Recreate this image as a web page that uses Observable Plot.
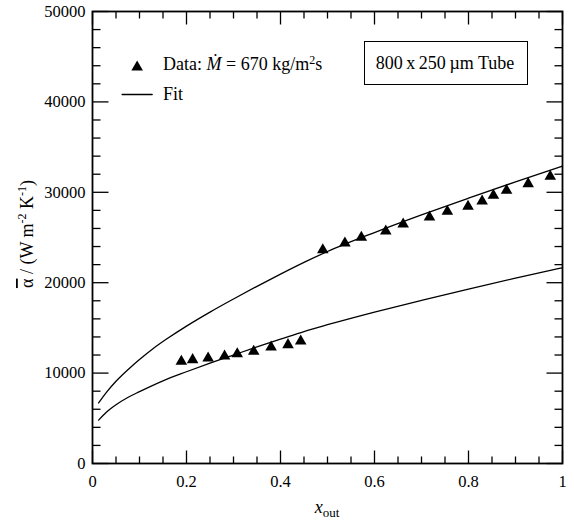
<!DOCTYPE html>
<html><head><meta charset="utf-8">
<script src="https://cdn.jsdelivr.net/npm/d3@7"></script>
<script src="https://cdn.jsdelivr.net/npm/@observablehq/plot@0.6"></script>
<style>body{margin:0;background:#fff} svg{display:block}</style>
</head><body><div id="chart"></div>
<script>
// ---- data ----
const dataX = [0.189, 0.213, 0.246, 0.281, 0.308, 0.343, 0.380, 0.416, 0.443,
               0.490, 0.537, 0.572, 0.624, 0.661, 0.717, 0.755, 0.799, 0.829, 0.853, 0.881, 0.927, 0.974];
const dataY = [11300, 11470, 11660, 11880, 12130, 12390, 12870, 13130, 13540,
               23620, 24380, 25010, 25700, 26480, 27250, 27880, 28440, 29020, 29650, 30210, 30940, 31760];

const fitLowerX = [0.013, 0.03, 0.05, 0.075, 0.1, 0.15, 0.2, 0.25, 0.3, 0.35, 0.4, 0.45, 0.5, 0.6, 0.7, 0.8, 0.9, 1.0];
const fitLowerY = [4800, 5700, 6500, 7300, 7950, 9150, 10150, 11100, 12000, 12900, 13750, 14600, 15350, 16750, 18050, 19300, 20500, 21650];

const fitUpperX = [0.013, 0.03, 0.05, 0.08, 0.1, 0.13, 0.16, 0.2, 0.25, 0.3, 0.35, 0.4, 0.45, 0.5, 0.6, 0.7, 0.8, 0.9, 1.0];
const fitUpperY = [6700, 7900, 9100, 10600, 11500, 12750, 13850, 15200, 16750, 18200, 19600, 20950, 22250, 23450, 25550, 27500, 29350, 31150, 32900];

const xTicks = [0, 0.2, 0.4, 0.6, 0.8, 1];
const xMinorTicks = [0.05, 0.1, 0.15, 0.25, 0.3, 0.35, 0.45, 0.5, 0.55, 0.65, 0.7, 0.75, 0.85, 0.9, 0.95];
const yTicks = [0, 10000, 20000, 30000, 40000, 50000];
const yMinorTicks = [2000, 4000, 6000, 8000, 12000, 14000, 16000, 18000, 22000, 24000, 26000, 28000,
                     32000, 34000, 36000, 38000, 42000, 44000, 46000, 48000];

const legendLabels = ["Data: ", "Ṁ", " = 670 kg/m", "2", "s", "Fit"];
const boxLabel = "800\u2009x\u2009250\u2009µm Tube";
const legendTriangle = [{x: 0.095, y: 43850}];
const legendLine = [{x: 0.063, y: 40820}, {x: 0.127, y: 40820}];

// ---- build ----
const points = dataX.map((x, i) => ({x, y: dataY[i]}));
const lower = fitLowerX.map((x, i) => ({x, y: fitLowerY[i]}));
const upper = fitUpperX.map((x, i) => ({x, y: fitUpperY[i]}));

const W = 574, H = 522, mL = 92, mR = 12, mT = 11, mB = 59;
const innerH = H - mT - mB, innerW = W - mL - mR;
const xDom = [0, 1], yDom = [0, 50000];
const pxY = (yDom[1] - yDom[0]) / innerH, pxX = (xDom[1] - xDom[0]) / innerW;
const xMaj = 13 * pxY, xMin = 7 * pxY, yMaj = 16 * pxX, yMin = 8 * pxX;
const font = "'Liberation Serif', 'Times New Roman', 'DejaVu Serif', serif";

// tick segments (inward, all four sides)
const tickSegs = [
  ...xTicks.flatMap(t => [{x1: t, x2: t, y1: yDom[0], y2: yDom[0] + xMaj}, {x1: t, x2: t, y1: yDom[1] - xMaj, y2: yDom[1]}]),
  ...xMinorTicks.flatMap(t => [{x1: t, x2: t, y1: yDom[0], y2: yDom[0] + xMin}, {x1: t, x2: t, y1: yDom[1] - xMin, y2: yDom[1]}]),
  ...yTicks.flatMap(t => [{x1: xDom[0], x2: xDom[0] + yMaj, y1: t, y2: t}, {x1: xDom[1] - yMaj, x2: xDom[1], y1: t, y2: t}]),
  ...yMinorTicks.flatMap(t => [{x1: xDom[0], x2: xDom[0] + yMin, y1: t, y2: t}, {x1: xDom[1] - yMin, x2: xDom[1], y1: t, y2: t}])
];

const plot = Plot.plot({
  width: W, height: H,
  marginLeft: mL, marginRight: mR, marginTop: mT, marginBottom: mB,
  style: {fontFamily: font, fontSize: "16.5px", background: "white"},
  x: {domain: xDom, ticks: xTicks, tickFormat: d => String(d), tickSize: 0, tickPadding: 12, label: null},
  y: {domain: yDom, ticks: yTicks, tickFormat: d => String(d), tickSize: 0, tickPadding: 7, label: null},
  marks: [
    Plot.link(tickSegs, {x1: "x1", y1: "y1", x2: "x2", y2: "y2", stroke: "black", strokeWidth: 1.3}),
    Plot.line(lower, {x: "x", y: "y", curve: "monotone-x", stroke: "black", strokeWidth: 1.3}),
    Plot.line(upper, {x: "x", y: "y", curve: "monotone-x", stroke: "black", strokeWidth: 1.3}),
    Plot.dot(points, {x: "x", y: "y", symbol: "triangle", r: 4.3, fill: "black", stroke: "none"}),
    Plot.dot(legendTriangle, {x: "x", y: "y", symbol: "triangle", r: 4.3, fill: "black", stroke: "none"}),
    Plot.line(legendLine, {x: "x", y: "y", stroke: "black", strokeWidth: 1.3}),
    Plot.frame({stroke: "black", strokeWidth: 1.8})
  ]
});
document.getElementById("chart").appendChild(plot);

// ---- rich text annotations ----
const svg = d3.select(plot);
const g = svg.append("g").attr("font-family", font).attr("fill", "black").attr("text-anchor", "start");

const t1 = g.append("text").attr("x", 163).attr("y", 70).attr("font-size", 18);
t1.append("tspan").text(legendLabels[0]);
t1.append("tspan").attr("font-style", "italic").text(legendLabels[1]);
t1.append("tspan").text(legendLabels[2]);
t1.append("tspan").attr("font-size", 12).attr("dy", -6).text(legendLabels[3]);
t1.append("tspan").attr("dy", 6).text(legendLabels[4]);

g.append("text").attr("x", 163).attr("y", 100).attr("font-size", 18).text(legendLabels[5]);

g.append("rect").attr("x", 364.5).attr("y", 41.5).attr("width", 163).attr("height", 43)
  .attr("fill", "none").attr("stroke", "black").attr("stroke-width", 1);
g.append("text").attr("x", 445).attr("y", 69).attr("text-anchor", "middle").attr("font-size", 18).text(boxLabel);

// y label
const yl = g.append("text").attr("transform", "translate(33,234) rotate(-90)")
  .attr("text-anchor", "middle").attr("font-size", 18);
yl.append("tspan").style("text-decoration", "overline").text("α");
yl.append("tspan").text(" / (W m");
yl.append("tspan").attr("font-size", 12).attr("dy", -7).text("-2");
yl.append("tspan").attr("dy", 7).text(" K");
yl.append("tspan").attr("font-size", 12).attr("dy", -7).text("-1");
yl.append("tspan").attr("dy", 7).text(")");

// x label
const xl = g.append("text").attr("x", 327).attr("y", 513).attr("text-anchor", "middle").attr("font-size", 18);
xl.append("tspan").attr("font-style", "italic").text("x");
xl.append("tspan").attr("font-size", 13).attr("dy", 4).text("out");
</script>
</body></html>
